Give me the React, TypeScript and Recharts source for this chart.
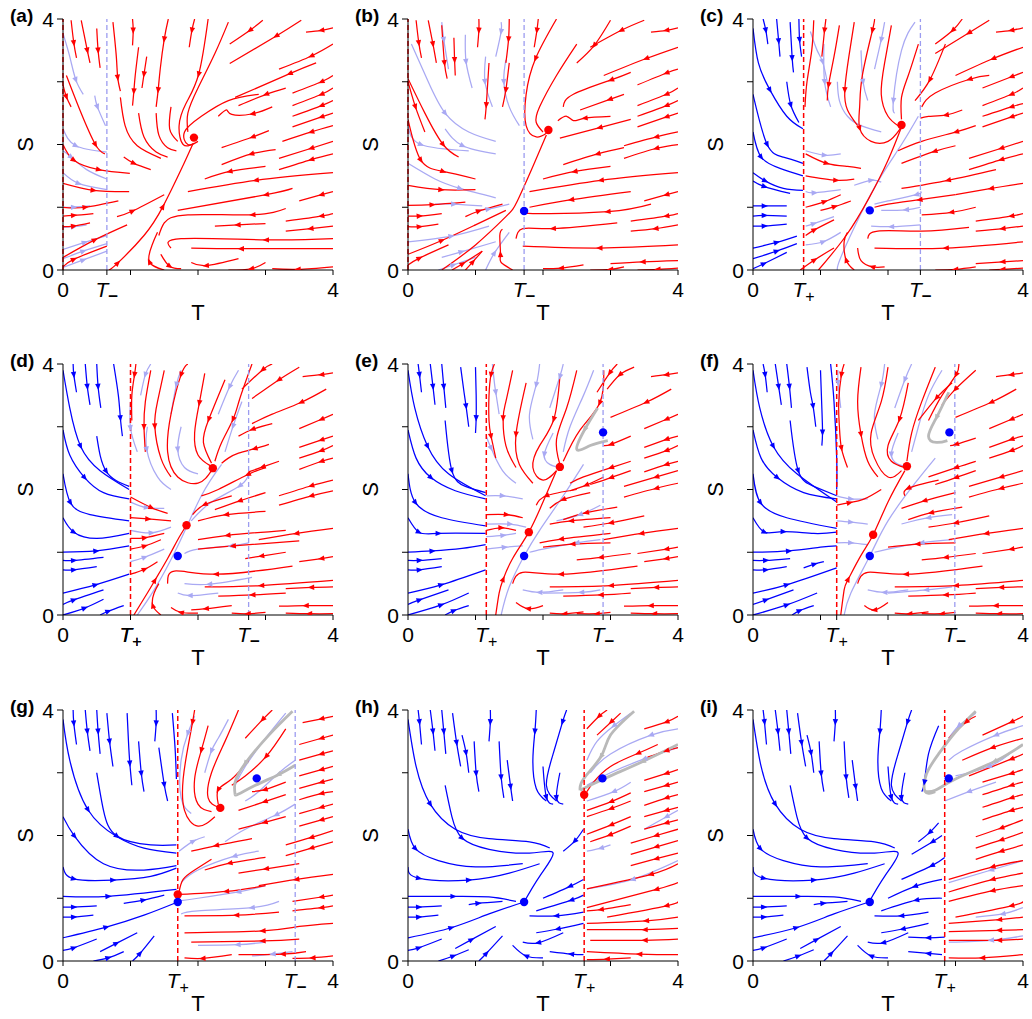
import React from 'react';
import { ComposedChart, Line, XAxis, YAxis, ReferenceLine, ReferenceDot } from 'recharts';

const RED = '#ff0000';
const BLUE = '#0000ff';
const LAV = '#a9a9f3';
const GREY = '#b9b9b9';
const FONT = '"Liberation Sans", Arial, sans-serif';

const PW = 270;
const PH = 251;
const PLOT_TOP = [19, 364, 710];

const NAMES = ['(a)', '(b)', '(c)', '(d)', '(e)', '(f)', '(g)', '(h)', '(i)'];
const T_PLUS = [0, 0, 0.75, 1.0, 1.16, 1.24, 1.7, 2.61, 2.84];
const T_MINUS = [0.65, 1.72, 2.48, 2.75, 2.89, 2.99, 3.44, null, null];
const RED_PTS = ['1.94,2.11', '2.08,2.23', '2.2,2.31', '2.22,2.34 1.83,1.43', '2.25,2.36 1.79,1.32',
  '2.28,2.37 1.78,1.28', '2.33,2.44 1.7,1.06', '2.61,2.65', ''];
const BLUE_PTS = ['', '1.72,0.94', '1.73,0.95', '1.7,0.94', '1.72,0.94 2.89,2.91', '1.73,0.94 2.91,2.91',
  '1.7,0.94 2.87,2.91', '1.72,0.94 2.88,2.91', '1.73,0.94 2.9,2.91'];

// streamlines: "T,S" points in flow order, ">" marks an arrow head
const redA = [
  '0.12,3.98 >0.16,3.62 0.2,3.38', '0.27,3.98 >0.36,3.5 0.4,3.3', '0.5,3.85 >0.52,3.5 0.55,3.22',
  '0.74,3.95 0.79,3.4 >0.81,3.07 0.85,2.85', '1.03,4 >1.04,3.82 1.03,3.58', '1.12,3.55 1.07,3.1 >1.05,2.85 1.03,2.62',
  '1.24,3.4 >1.2,3.12 1.17,2.9', '1.56,4 >1.5,3.68 1.44,3.2 >1.41,2.87 1.38,2.6', '1.95,4 >1.91,3.82 1.87,3.55',
  '2.15,4 >2.01,3.12 1.82,2.65 1.72,2.3 1.78,2.0 1.94,2.02', '2.45,3.95 2.25,3.45 2.0,2.9 1.85,2.5 1.85,2.2',
  '2.9,2.8 2.45,2.7 2.05,2.45 1.8,2.2 1.85,2.0 2.0,2.05', '0,2.95 >0.05,2.76 0.12,2.6',
  '0.05,3.1 0.25,2.55 >0.48,2.0 0.62,1.85', '0,2.0 >0.16,1.75 >0.53,1.6 0.99,1.54', '0,1.38 >0.45,1.27 0.98,1.25',
  '0.85,2.75 0.92,2.3 1.1,1.98 1.45,1.78', '1.12,2.5 1.2,2.12 1.38,1.88 1.55,1.8', '1.38,2.5 1.42,2.15 1.55,1.95 1.68,1.9',
  '1.6,2.6 1.58,2.25 1.7,2.05', '0.9,1.8 >1.05,1.7 1.3,1.6',
  '0,1.0 >0.33,1.0 0.82,1.1', '0,0.86 >0.16,0.87 0.45,0.9', '0,0.69 >0.16,0.7 0.4,0.75',
  '0,0.2 >0.47,0.48 0.95,0.72', '0,0.05 >0.16,0.17 0.65,0.38',
  '0.68,0 >0.81,0.11 1.2,0.55 >1.48,1.01 1.75,1.6 1.92,2.0', '0.8,0.85 >1.03,0.94 1.5,1.2',
  '1.5,0 >1.28,0.13 1.32,0.4 1.4,0.6', '1.45,0.25 >1.58,0.06 1.75,0.02',
  '2.96,3.98 >2.77,3.82 2.47,3.6', '3.53,3.98 >3.16,3.73 2.47,3.29', '4,3.86 >3.83,3.82 3.6,3.79',
  '4,3.6 >3.68,3.41 3.2,3.2', '3.75,3.3 >3.36,3.13 2.55,2.75', '4,3.1 >3.83,3.0 3.4,2.82', '4,2.9 >3.83,2.8 3.4,2.62',
  '3.3,2.9 >3.01,2.8 2.6,2.62', '4,2.7 >3.83,2.62 3.4,2.45', '4,2.5 >3.83,2.44 3.4,2.28',
  '3.1,2.6 >2.81,2.49 2.5,2.48 2.42,2.55 2.3,2.45', '4,2.3 >3.68,2.2 3.25,2.05', '3.05,2.22 >2.81,2.12 2.35,1.95',
  '4,2.05 >3.68,1.94 3.2,1.78', '4,1.85 >3.68,1.76 3.2,1.6', '3.15,1.92 >2.79,1.85 2.35,1.68',
  '3.0,1.65 >2.47,1.57 2.1,1.45', '4,1.55 >2.86,1.43 1.85,1.25', '4,1.25 >3.83,1.2 3.5,1.1',
  '3.4,1.3 >3.01,1.2 1.7,0.95', '4,0.9 >3.83,0.86 3.3,0.78', '3.3,0.98 >2.81,0.88 1.85,0.88 1.5,0.75 1.42,0.55',
  '3.0,0.74 >2.59,0.72 2.25,0.7', '4,0.7 >3.67,0.66 3.3,0.62', '4,0.5 >3.01,0.48 1.75,0.5 1.6,0.35',
  '4,0.34 >2.64,0.34 1.9,0.35', '4,0.05 >3.48,0.01 3.1,0.02', '3.0,0.12 >2.79,0.02 2.45,0.0', '2.6,0.18 >2.12,0.07 1.9,0.12',
];
const lavA = [
  '0,3.77 0.1,3.4 >0.19,3.03 0.3,2.8', '0.47,2.78 >0.51,2.6 0.63,2.3', '0,2.25 >0.19,1.98 0.65,1.88',
  '0,1.9 >0.12,1.8 0.35,1.6 0.65,1.45', '0,1.55 >0.23,1.38 0.65,1.28', '0,1.0 >0.16,1.0 0.4,1.02',
  '0,0.68 >0.16,0.69 0.35,0.72', '0,0.33 >0.32,0.44 0.65,0.55', '0,0.18 >0.3,0.3 0.65,0.42', '0,0.04 >0.3,0.16 0.65,0.3',
];

const redB = [
  '0.12,3.98 >0.16,3.62 0.2,3.38', '0.3,3.98 >0.37,3.6 0.42,3.3', '0.5,3.9 >0.54,3.3 0.58,3.05',
  '0.68,3.7 >0.69,3.35 0.7,3.1', '1.05,4 >1.05,3.82 1.03,3.55', '1.2,3.3 >1.16,2.63 1.14,2.4',
  '1.5,4 >1.49,3.68 1.45,3.3', '1.5,3.3 >1.45,2.87 1.4,2.6', '1.93,4 >1.91,3.82 1.87,3.55',
  '2.2,4 >1.89,3.37 1.75,2.8 1.75,2.3 1.9,2.12 2.05,2.18', '2.5,3.6 2.2,3.1 1.95,2.6 1.9,2.35 2.0,2.2',
  '0,3.0 >0.11,2.6 0.25,2.2', '0,3.05 0.25,2.5 >0.52,2.0 0.75,1.8', '0,2.4 >0.19,1.75 >0.52,1.57 1.0,1.45',
  '0,1.35 >0.49,1.28 1.0,1.28', '0,1.03 >0.36,1.04 0.85,1.08', '0,0.86 >0.17,0.86 0.5,0.9', '0,0.69 >0.17,0.69 0.45,0.73',
  '0,0.25 >0.5,0.47 1.0,0.72 1.45,0.95', '0,0.08 >0.17,0.19 0.6,0.4', '0.65,0 >0.81,0.1 1.1,0.3', '0.85,0 >0.96,0.13 1.1,0.3',
  '0.85,0.85 >1.05,0.94 1.4,1.05', '0.5,0 1.0,0.4 1.45,0.85 1.62,1.1 1.85,1.65 2.05,2.15',
  '1.55,0 1.38,0.12 >1.37,0.25 1.36,0.55 1.4,0.65',
  '3.0,3.98 >2.76,3.58 2.5,3.3', '3.5,3.98 >3.16,3.82 2.7,3.55', '4,3.86 >3.83,3.82 3.6,3.79', '4,3.55 >3.53,3.37 2.9,3.1',
  '4,3.2 >3.83,3.14 3.4,2.95', '3.3,3.15 >3.01,3.03 2.45,2.8 2.3,2.6', '4,2.9 >3.83,2.8 3.4,2.62', '3.2,2.8 >2.99,2.72 2.55,2.55',
  '4,2.7 >3.83,2.62 3.4,2.45', '3.0,2.45 >2.62,2.42 2.45,2.38 2.35,2.45 2.22,2.38', '3.3,2.4 >2.84,2.27 2.25,2.1',
  '4,2.5 >3.83,2.44 3.4,2.28', '4,2.2 >3.68,2.12 3.2,1.98', '4,2.0 >3.68,1.94 3.2,1.78', '3.2,1.95 >2.81,1.85 2.3,1.68',
  '3.0,1.65 >2.47,1.57 2.0,1.45', '4,1.55 >2.86,1.43 1.8,1.25', '4,1.25 >3.83,1.2 3.5,1.1', '3.3,1.25 >2.42,1.12 1.8,1.0',
  '3.6,1.05 >2.96,0.93 1.85,0.9 1.72,0.94', '4,0.9 >3.83,0.86 3.3,0.78', '4,0.72 >3.67,0.66 3.3,0.62',
  '3.1,0.75 >2.15,0.66 1.7,0.66 1.6,0.5', '4,0.4 >2.84,0.35 1.7,0.38', '4,0.15 >3.48,0.13 3.0,0.1',
  '2.6,0.08 >2.27,0.03 2.0,0.02', '3.2,0.05 >3.0,0.01 2.7,0.0', '4,0.03 >3.7,0.01 3.4,0.0',
];
const lavB = [
  '0.05,3.6 0.3,3.0 >0.55,2.5 0.9,2.2 1.3,2.05', '0.5,3.95 >0.53,3.67 0.6,3.2', '0.85,3.75 >0.86,3.32 0.95,2.9',
  '1.15,3.4 >1.14,3.0 1.25,2.6', '1.38,3.95 >1.38,3.8 1.3,3.4', '1.45,3.35 >1.42,3.0 1.5,2.6 1.65,2.3',
  '0,2.3 >0.19,2.0 0.9,1.9', '0.55,2.25 >0.81,1.98 1.3,1.85', '0,1.7 0.4,1.45 >0.77,1.3 1.3,1.15',
  '0.4,1.05 >0.68,1.05 1.1,1.02', '1.0,0.95 >1.19,0.97 1.5,1.05', '0,0.45 >0.64,0.54 1.2,0.7',
  '0.5,0.2 >0.79,0.29 1.3,0.45', '0.45,0 >0.67,0.08 1.0,0.2', '1.15,0 >1.28,0.27 1.5,0.6',
];

const blueC = [
  '0.15,4 >0.19,3.82 0.22,3.6', '0.35,4 >0.38,3.65 0.4,3.4', '0.55,3.95 >0.58,3.38 0.6,3.15', '0.68,4 >0.69,3.67 0.72,3.4',
  '0.5,3.0 >0.56,2.63 0.68,2.35', '0,3.85 0.08,3.3 >0.25,2.87 0.5,2.45 0.74,2.25', '0,2.8 >0.21,2.0 0.45,1.8 0.74,1.7',
  '0,2.2 >0.12,1.8 0.4,1.62 0.74,1.5', '0,1.55 >0.18,1.42 0.45,1.3 0.74,1.27', '0,1.42 >0.17,1.33 0.55,1.22',
  '0,1.02 >0.17,1.02 0.5,1.02', '0,0.86 >0.17,0.87 0.5,0.86', '0,0.7 >0.17,0.7 0.5,0.73', '0,0.35 >0.35,0.44 0.65,0.54',
  '0,0.18 >0.35,0.3 0.65,0.42', '0,0.02 >0.16,0.1 0.5,0.28',
];
const redC = [
  '0.9,3.98 0.87,3.5 0.8,3.0 0.77,2.6', '1.08,4 >1.06,3.82 1.02,3.4', '1.28,3.9 1.2,3.4 >1.12,2.95 1.1,2.7',
  '1.5,3.95 1.42,3.4 >1.36,2.87 1.4,2.55 1.55,2.3', '1.8,4 >1.77,3.82 1.62,3.1 1.58,2.6 >1.58,2.26 1.75,2.05 2.0,2.05 2.18,2.25',
  '2.05,3.9 1.95,3.3 1.9,2.8 2.0,2.45 2.15,2.3', '2.45,3.6 2.3,3.1 2.2,2.75 2.2,2.4',
  '0.78,1.85 >1.09,1.7 1.4,1.65 1.6,1.62', '0.78,1.5 >1.23,1.43 1.5,1.45', '0.78,1.0 >1.06,1.09 1.3,1.2',
  '1.0,0.95 >1.21,1.01 1.45,1.1', '0.78,0.55 >0.91,0.64 1.2,0.8', '0.7,0 >0.91,0.16 1.2,0.35',
  '1.5,0 >1.38,0.16 1.35,0.45 1.4,0.6', '1.95,0.05 >1.77,0.05 1.6,0.15 1.55,0.35', '0.97,0 1.38,0.55 1.72,1.15 2.0,1.75 2.2,2.28',
  '3.1,4 >2.96,3.82 2.7,3.6', '2.85,3.6 >2.62,3.03 2.4,2.7', '3.5,3.98 >3.2,3.78 2.7,3.45', '4,3.86 >3.83,3.82 3.6,3.79',
  '4,3.55 >3.56,3.37 3.0,3.1', '3.5,3.1 >3.21,3.04 2.7,2.82 2.5,2.6', '4,3.15 >3.83,3.08 3.4,2.9', '4,2.9 >3.83,2.8 3.4,2.62',
  '3.1,2.55 >2.86,2.47 2.6,2.45 2.48,2.42', '4,2.65 >3.83,2.6 3.4,2.45', '4,2.5 >3.83,2.44 3.4,2.28',
  '3.3,2.3 >3.01,2.2 2.5,2.05 2.15,1.9', '4,2.05 >3.68,1.94 3.2,1.78', '4,1.85 >3.68,1.76 3.2,1.6', '3.0,1.98 >2.69,1.89 2.2,1.7',
  '3.6,1.6 >2.89,1.43 2.2,1.3', '4,1.38 >3.53,1.3 3.0,1.2', '3.0,1.2 >2.47,1.12 2.0,1.05 1.8,1.0', '3.3,1.0 >2.94,0.92 2.5,0.88',
  '4,0.9 >3.83,0.86 3.3,0.78', '4,0.7 >3.7,0.66 3.3,0.62', '3.2,0.68 2.5,0.62 1.85,0.62 1.7,0.5', '4,0.45 >2.86,0.35 1.8,0.35',
  '4,0.15 >3.7,0.13 3.3,0.1', '3.3,0.05 >3.0,0.01 2.7,0.0', '4,0.03 >3.7,0.01 3.5,0',
];
const lavC = [
  '0.85,3.8 0.95,3.5 >1.03,3.32 1.1,3.0', '1.05,3.6 >1.06,3.0 1.15,2.6', '1.25,3.0 1.28,2.7 1.4,2.45 1.6,2.3 1.9,2.2',
  '1.95,3.95 >1.9,3.67 1.8,3.2', '1.6,3.5 >1.63,3.0 1.7,2.7', '2.4,3.95 2.2,3.5 >2.08,2.7 2.1,2.5',
  '0.78,1.9 >1.06,1.83 1.3,1.85', '0.78,1.25 >0.91,1.23 1.3,1.28', '1.5,1.35 >1.75,1.43 1.9,1.4',
  '0.78,0.7 >0.9,0.74 1.2,0.85', '0.78,0.4 >1.04,0.45 1.3,0.6', '2.48,1.25 >2.42,1.2 2.0,1.1 1.8,1.05',
  '2.48,1.0 >2.27,0.96 1.9,0.95', '2.48,0.72 >2.05,0.69 1.75,0.7', '2.45,2.45 2.2,2.0 1.9,1.5 1.6,0.9 1.3,0.2 1.25,0',
];

const blueD = [
  '0.15,4 >0.16,3.83 0.2,3.55', '0.33,4 >0.36,3.64 0.4,3.35', '0.5,4 >0.52,3.64 0.56,3.3', '0.75,4 0.82,3.5 >0.85,3.14 0.88,2.85',
  '0,3.9 0.1,3.3 >0.26,2.69 0.55,2.3 0.98,2.0', '0.5,2.85 >0.64,2.29 0.98,2.05', '0,2.95 0.1,2.55 >0.32,2.19 0.6,1.95 0.98,1.85',
  '0,2.25 >0.11,1.79 0.4,1.6 0.98,1.5', '0,1.55 >0.16,1.32 0.5,1.22 0.98,1.3', '0,1.0 >0.49,1.02 0.98,1.1',
  '0,0.87 >0.16,0.87 0.6,0.92', '0,0.72 >0.16,0.72 0.5,0.77', '0,0.35 >0.48,0.48 0.98,0.65', '0,0.17 >0.16,0.24 0.6,0.4',
  '0,0.0 >0.32,0.11 0.6,0.25', '0.55,0 >0.67,0.06 0.9,0.15',
];
const redD = [
  '1.08,4 >1.06,3.83 1.02,3.5 1.02,3.1', '1.3,3.9 1.22,3.4 >1.2,3.0 1.22,2.6', '1.5,3.9 1.4,3.4 >1.36,3.01 1.45,2.5 1.6,2.2',
  '1.85,4 >1.75,3.83 1.6,3.2 1.55,2.6 1.7,2.2 2.0,2.1 2.2,2.3', '2.1,3.85 >2.02,3.38 1.95,2.9 2.0,2.55 2.18,2.38',
  '2.4,3.75 >2.16,3.12 2.08,2.75 2.2,2.42', '2.8,4 2.62,3.45 >2.52,3.12 2.35,2.75 2.25,2.45', '3.1,4 >2.96,3.91 2.65,3.6',
  '3.5,3.95 >3.2,3.75 2.8,3.45', '4,3.86 >3.83,3.83 3.55,3.8', '3.9,3.6 >3.53,3.39 3.1,3.2 2.8,3.05', '4,3.2 >3.83,3.12 3.5,2.97',
  '3.1,3.05 >2.81,2.96 2.6,2.85', '4,2.85 >3.83,2.79 3.5,2.67', '4,2.7 >3.83,2.62 3.5,2.5',
  '3.05,2.72 >2.84,2.65 2.6,2.58 2.45,2.5 2.35,2.42', '4,2.5 >3.83,2.45 3.5,2.32', '3.2,2.45 >2.96,2.36 2.75,2.28',
  '3.0,2.35 >2.74,2.24 2.3,2.0 2.05,1.9', '4,2.15 >3.68,2.06 3.2,1.9', '4,1.98 >3.68,1.9 3.2,1.75', '3.0,1.95 >2.62,1.82 2.25,1.68',
  '2.5,1.9 >2.1,1.76 1.92,1.6', '1.0,1.88 >1.31,1.71 1.55,1.62', '1.0,1.55 >1.26,1.53 1.6,1.5', '1.0,1.22 >1.21,1.23 1.5,1.3',
  '1.0,1.05 >1.21,1.1 1.45,1.2', '1.0,0.65 >1.21,0.73 1.4,0.85', '1.05,0 1.25,0.35 >1.36,0.55 1.55,0.9 1.7,1.2 1.83,1.43',
  '1.45,0 >1.33,0.15 1.35,0.35 1.42,0.5', '2.0,0.03 >1.75,0.04 1.6,0.12', '3.0,1.65 >2.42,1.6 2.0,1.5', '3.3,1.35 >2.44,1.27 2.0,1.2',
  '3.5,1.18 >2.52,1.1 2.0,1.05', '4,1.38 >3.46,1.3 2.9,1.2', '3.3,1.0 >2.94,0.94 2.7,0.9', '4,0.93 >3.83,0.9 3.5,0.85',
  '3.4,0.78 >2.27,0.65 1.65,0.7 1.55,0.5', '4,0.55 >2.94,0.47 2.1,0.45', '4,0.45 >3.68,0.44 3.3,0.42', '3.3,0.35 >2.81,0.32 2.3,0.3',
  '4,0.15 >3.6,0.15 3.2,0.14', '4,0.02 >3.65,0.02 3.3,0.03', '2.5,0.15 >2.12,0.1 1.9,0.08', '3.0,0.04 >2.74,0.02 2.5,0.03',
];
const lavD = [
  '1.3,4 >1.22,3.83 1.15,3.5', '1.75,3.9 >1.68,3.67 1.6,3.2', '1.0,3.4 >1.0,2.98 1.1,2.6', '1.25,3.0 >1.24,2.64 1.4,2.2 1.6,2.0',
  '1.75,3.0 >1.7,2.64 1.8,2.35 2.0,2.25', '2.6,3.9 >2.47,3.64 2.3,3.2', '2.65,3.4 >2.52,3.01 2.4,2.6',
  '2.75,2.25 >2.62,2.06 2.2,1.8 1.9,1.5', '1.0,1.8 >1.24,1.71 1.5,1.7', '1.0,1.35 >1.31,1.31 1.6,1.4', '1.0,0.85 >1.21,0.92 1.5,1.05',
  '2.75,1.15 >2.49,1.1 2.0,1.05 1.8,0.98', '2.8,0.6 >2.17,0.49 1.8,0.5', '2.3,0.35 >1.88,0.31 1.7,0.35',
  '2.35,2.4 2.05,1.9 1.7,1.1 1.35,0.4 1.1,0',
];

const blueE = [
  '0.15,4 >0.17,3.83 0.2,3.55', '0.33,4 >0.37,3.64 0.4,3.35', '0.5,4 >0.53,3.64 0.56,3.3', '0.78,3.95 0.83,3.55 >0.86,3.33 0.9,3.0',
  '1.0,3.95 1.01,3.5 >1.01,3.14 1.0,2.9', '0,3.9 0.1,3.3 >0.29,2.69 0.6,2.25 1.15,1.9', '0.55,3.1 >0.65,2.3 0.85,2.05 1.15,1.95',
  '0,2.95 0.12,2.5 >0.34,2.19 0.7,1.98 1.15,1.85', '0,2.25 >0.11,1.79 0.5,1.55 1.15,1.42', '0,1.55 >0.16,1.32 >0.45,1.3 1.15,1.3',
  '0,1.0 >0.36,1.02 0.8,1.06 1.15,1.12', '0,0.87 >0.17,0.87 0.5,0.9', '0,0.72 >0.17,0.72 0.5,0.77', '0,0.35 >0.49,0.48 1.15,0.72',
  '0,0.17 >0.17,0.24 0.6,0.4', '0,0.0 >0.49,0.16 0.9,0.35', '0.55,0 >0.68,0.07 0.9,0.15',
];
const redE = [
  '1.28,4 >1.23,3.83 1.2,3.5 1.2,3.1 >1.23,2.85 1.3,2.5', '1.55,3.9 1.45,3.4 >1.41,3.14 1.45,2.7 1.6,2.35',
  '1.75,3.7 >1.6,2.88 1.65,2.4 1.85,2.1', '2.25,3.8 >2.16,3.12 1.95,2.7 1.85,2.35 2.0,2.15 2.2,2.3', '2.5,3.9 2.35,3.3 2.2,2.8 2.25,2.4',
  '2.9,3.9 >2.84,3.38 2.55,2.95 2.3,2.45', '1.16,1.6 >1.46,1.6 1.7,1.55', '1.16,1.35 >1.38,1.39 1.6,1.35',
  '1.3,0 1.35,0.35 >1.41,0.57 1.55,0.9 1.79,1.32 2.0,1.8 2.2,2.3', '2.0,0.15 >1.78,0.1 1.6,0.2', '2.5,2.0 >2.05,1.9 1.9,1.75',
  '2.7,1.95 >2.3,1.84 2.1,1.7', '3.1,4 >2.99,3.86 2.8,3.55', '3.35,3.95 >3.14,3.83 2.95,3.6', '4,3.86 >3.83,3.83 3.6,3.8',
  '3.9,3.6 >3.53,3.39 3.0,3.15', '4,3.2 >3.83,3.12 3.5,2.97', '4,2.85 >3.83,2.8 3.5,2.67', '3.3,2.85 >3.01,2.72 2.9,2.7',
  '4,2.7 >3.83,2.62 3.5,2.5', '4,2.45 >3.83,2.4 3.5,2.28', '3.3,2.45 >3.01,2.35 2.6,2.2 2.4,2.1', '3.3,2.3 >3.01,2.19 2.7,2.08',
  '4,2.3 >3.68,2.2 3.2,2.05', '4,2.1 >3.68,2.02 3.2,1.88', '2.9,2.2 >2.64,2.07 2.4,1.98', '3.1,1.72 >2.64,1.63 2.3,1.52',
  '3.5,1.58 >3.01,1.47 2.6,1.4', '3.0,1.55 >2.42,1.5 2.1,1.45', '4,1.38 >3.46,1.3 2.9,1.2', '4,1.08 >3.83,1.05 3.4,0.98',
  '3.0,1.3 >2.27,1.21 1.95,1.15', '3.0,1.15 >2.44,1.13 2.0,1.08', '3.3,0.98 >2.86,0.92 2.5,0.88', '4,0.93 >3.83,0.9 3.5,0.85',
  '3.4,0.78 >2.27,0.65 1.7,0.68 1.55,0.5', '4,0.55 >3.01,0.47 2.1,0.45', '4,0.45 >3.68,0.44 3.3,0.42', '3.3,0.35 >2.86,0.32 2.3,0.3',
  '4,0.15 >3.6,0.15 3.2,0.14', '4,0.02 >3.65,0.02 3.3,0.03', '2.6,0.05 >2.32,0.02 2.1,0.03', '3.0,0.04 >2.8,0.02 2.5,0.02',
];
const lavE = [
  '1.25,4 1.28,3.7 >1.3,3.55 1.35,3.2', '1.16,2.85 >1.23,2.66 1.4,2.3 1.6,2.1', '1.95,4 >1.9,3.67 1.8,3.2 1.85,2.8',
  '2.3,4 >2.25,3.8 2.1,3.3', '2.15,2.9 >2.02,2.56 2.1,2.4 2.25,2.35', '2.75,3.9 2.6,3.5 2.4,3.0 2.3,2.6',
  '1.16,1.9 >1.4,1.9 1.7,1.85', '1.16,1.45 >1.51,1.45 1.75,1.4', '1.16,1.05 >1.43,1.08 1.7,1.1', '1.16,1.25 >1.41,1.27 1.6,1.3',
  '2.6,2.4 2.3,1.9 1.95,1.35 1.72,0.94 1.5,0.45 1.38,0', '2.85,1.75 >2.55,1.6 2.2,1.5', '2.85,1.2 >2.5,1.15 2.0,1.05 1.8,1.0',
  '2.85,0.4 >2.57,0.36 2.0,0.35', '2.3,0.4 >1.95,0.36 1.7,0.4',
];
const greyE = ['2.81,3.3 >2.62,2.96 2.5,2.64 2.7,2.7 2.96,2.78'];

const blueF = [
  '0.15,4 >0.18,3.83 0.21,3.55', '0.33,4 >0.38,3.64 0.42,3.35', '0.5,4 >0.54,3.64 0.57,3.3', '0.8,3.95 0.85,3.55 >0.89,3.33 0.93,3.0',
  '1.0,3.9 1.02,3.3 >1.03,2.91 1.02,2.7', '1.15,4 1.2,3.4 1.24,2.5 1.24,2.0', '0,3.9 0.1,3.3 >0.3,2.69 0.65,2.25 1.24,1.8',
  '0.55,3.1 >0.67,2.3 0.9,2.05 1.24,1.9', '0,2.95 0.12,2.5 >0.36,2.19 0.75,1.95 1.24,1.85', '0,2.25 >0.11,1.79 0.5,1.55 1.24,1.38',
  '0,1.55 >0.17,1.32 >0.45,1.33 0.9,1.3 1.24,1.32', '0,1.0 >0.53,1.02 1.0,1.08 1.24,1.1', '0,0.87 >0.19,0.87 0.55,0.9',
  '0,0.72 >0.19,0.72 0.5,0.77', '0.75,0.75 >0.91,0.81 1.05,0.85', '0,0.35 >0.5,0.48 1.24,0.75', '0,0.17 >0.19,0.24 0.6,0.4',
  '0,0.0 >0.5,0.16 0.95,0.35', '0.58,0 >0.69,0.07 0.9,0.15',
];
const redF = [
  '1.35,4 >1.31,3.83 1.27,3.4 1.28,3.0 >1.31,2.66 1.4,2.35', '1.6,3.95 1.55,3.4 >1.6,2.88 1.7,2.45 1.85,2.2',
  '2.0,3.95 1.9,3.4 1.75,2.9 1.8,2.5 2.0,2.2 2.2,2.3', '2.3,3.7 >2.17,3.12 2.0,2.7 2.05,2.45 2.25,2.35', '2.7,3.95 2.5,3.4 2.35,2.9 2.28,2.45',
  '3.05,4 >3.01,3.83 2.8,3.5 2.6,3.1', '3.3,3.9 >3.0,3.6 2.8,3.35', '2.95,3.7 >2.72,3.46 2.45,3.1', '4,3.86 >3.83,3.83 3.6,3.8',
  '3.9,3.6 >3.53,3.39 3.0,3.15', '4,3.2 >3.83,3.12 3.5,2.97', '4,2.85 >3.83,2.8 3.5,2.67', '3.3,2.82 >3.01,2.72 2.92,2.7',
  '4,2.7 >3.83,2.62 3.5,2.5', '3.3,2.45 >3.01,2.35 2.6,2.2', '3.3,2.3 >3.01,2.19 2.7,2.08', '4,2.3 >3.68,2.2 3.2,2.05',
  '4,2.1 >3.68,2.02 3.2,1.88', '2.75,2.15 >2.3,2.02 2.25,1.9', '1.24,1.75 >1.43,1.79 1.65,1.85 1.9,2.0',
  '1.3,0 1.35,0.4 >1.41,0.57 1.6,0.95 1.78,1.28 2.0,1.8 2.25,2.3', '3.0,1.95 >2.54,1.82 2.2,1.7', '3.1,1.72 >2.64,1.63 2.3,1.52',
  '3.5,1.58 >3.01,1.47 2.6,1.4', '4,1.38 >3.46,1.3 2.9,1.2', '4,1.08 >3.83,1.05 3.4,0.98', '3.0,1.15 >2.44,1.13 2.0,1.08',
  '3.3,0.98 >2.86,0.92 2.5,0.88', '3.4,0.78 >2.27,0.65 1.7,0.68 1.55,0.5', '4,0.55 >3.01,0.47 2.1,0.45', '4,0.45 >3.68,0.44 3.3,0.42',
  '3.3,0.35 >2.86,0.32 2.3,0.3', '4,0.15 >3.6,0.15 3.2,0.14', '4,0.02 >3.65,0.02 3.3,0.03', '2.6,0.05 >2.32,0.02 2.1,0.03',
  '3.0,0.04 >2.8,0.02 2.5,0.02', '2.0,0.2 >1.8,0.08 1.65,0.15',
];
const lavF = [
  '1.26,3.9 >1.26,3.7 1.3,3.3', '1.95,4 >1.9,3.67 1.8,3.2 1.85,2.8', '2.35,4 >2.25,3.75 2.1,3.3', '2.15,2.9 >2.05,2.56 2.15,2.4 2.28,2.37',
  '2.8,3.9 2.6,3.5 2.45,3.0 2.35,2.6', '1.24,1.9 >1.45,1.85 1.7,1.85', '1.24,1.5 >1.45,1.48 1.7,1.45', '1.24,1.15 >1.45,1.15 1.7,1.12',
  '2.7,2.5 2.4,2.1 2.0,1.5 1.73,0.94 1.45,0.35 1.35,0', '2.95,1.6 >2.6,1.55 2.2,1.45', '2.95,1.2 >2.5,1.15 2.0,1.05 1.8,1.0',
  '2.95,0.45 >2.57,0.4 2.0,0.35', '2.3,0.4 >1.95,0.36 1.7,0.4',
];
const greyF = ['2.9,3.55 >2.72,3.15 2.6,2.85 2.72,2.75 2.88,2.78'];

const blueG = [
  '0.15,4 >0.16,3.79 0.2,3.45', '0.33,4 >0.36,3.66 0.4,3.35', '0.5,4 >0.52,3.66 0.55,3.3', '0.65,3.95 >0.69,3.5 0.74,3.1',
  '0.95,3.95 0.97,3.5 >0.99,3.15 1.02,2.8', '1.12,3.5 >1.16,2.99 1.2,2.7', '1.38,4 >1.38,3.79 1.36,3.5', '1.42,3.4 >1.5,2.81 1.55,2.55',
  '1.62,3.95 1.66,3.4 1.68,2.9', '0,3.85 0.1,3.2 >0.37,2.41 0.8,1.98 1.2,1.8 1.68,1.72', '0.5,3.0 0.6,2.4 >0.8,1.99 1.3,1.85 1.68,1.85',
  '0,2.3 >0.17,1.99 0.6,1.55 1.2,1.45 1.68,1.52', '0,1.5 >0.16,1.31 >0.74,1.29 1.3,1.35 1.68,1.48', '0,1.03 >0.67,1.03 1.68,1.14',
  '0.9,0.92 >1.19,0.97 1.5,1.05', '0,0.86 >0.16,0.86 0.5,0.88', '0,0.7 >0.16,0.7 0.45,0.73', '0,0.37 >0.64,0.54 1.2,0.73 1.7,0.94',
  '0,0.17 >0.16,0.21 0.5,0.35', '0.55,0.15 >0.79,0.28 1.1,0.45', '0.45,0 >0.67,0.05 0.9,0.15', '1.03,0 >1.14,0.12 1.35,0.4',
];
const redG = [
  '1.95,4 >1.92,3.81 1.85,3.4 1.78,2.9 1.8,2.4 2.0,2.15 2.25,2.3', '2.15,3.75 >2.05,3.36 1.95,2.9 2.0,2.5 2.2,2.38',
  '2.6,4 2.4,3.5 2.2,3.0 2.15,2.6 2.3,2.45', '2.75,3.2 2.5,2.9 >2.3,2.73 2.3,2.5', '3.1,4 >2.96,3.85 2.7,3.55',
  '3.3,3.7 >3.01,3.26 2.7,2.95 2.5,2.8', '4,3.9 >3.83,3.86 3.55,3.8', '4,3.6 >3.83,3.55 3.5,3.45', '4,3.35 >3.83,3.3 3.5,3.2',
  '4,3.1 >3.83,3.05 3.5,2.95', '4,2.9 >3.83,2.85 3.5,2.75', '4,2.7 >3.83,2.67 3.5,2.57', '4,2.5 >3.83,2.45 3.5,2.35',
  '4,2.3 >3.83,2.25 3.5,2.15', '4,2.08 >3.68,1.97 3.3,1.85', '4,1.9 >3.68,1.8 3.3,1.68', '3.3,2.85 >2.99,2.73 2.8,2.7',
  '3.3,2.65 >2.99,2.54 2.6,2.4', '3.3,2.3 >2.99,2.21 2.6,2.1', '2.8,1.95 >2.27,1.84 1.9,1.75', '3.0,1.65 >2.47,1.56 2.1,1.45',
  '1.72,1.1 1.78,1.3 1.95,1.45 2.2,1.62', '3.5,1.55 >3.01,1.47 2.6,1.4', '4,1.38 >3.46,1.3 2.9,1.2', '3.0,1.2 >2.42,1.11 1.72,1.06',
  '4,1.05 >3.83,1.02 3.4,0.95', '4,0.88 >3.83,0.85 3.4,0.8', '3.2,0.78 >2.57,0.73 1.8,0.72', '4,0.6 3.5,0.55 >2.96,0.48 1.8,0.45',
  '3.5,0.35 >2.96,0.32 1.9,0.3', '3.6,0.15 >3.26,0.11 2.6,0.1', '4,0.08 >3.7,0.05 3.4,0.04', '2.5,0.1 >2.07,0.04 1.8,0.05',
];
const lavG = [
  '1.95,3.9 >1.85,3.63 1.75,3.2 1.75,2.6 1.9,2.35', '2.45,3.85 2.3,3.55 >2.2,3.35 2.1,3.0', '1.72,1.75 >1.93,1.91 2.1,1.98',
  '3.44,2.5 >3.16,2.33 2.7,2.1 2.4,1.9', '2.9,1.75 >2.54,1.67 2.0,1.45 1.75,1.25', '3.0,1.2 >2.6,1.1 2.0,1.0 1.72,0.96',
  '3.2,0.95 >2.8,0.85 2.0,0.8 1.75,0.75', '3.0,0.3 >2.59,0.26 2.0,0.25', '3.4,0.15 >3.11,0.11 2.8,0.08',
  '3.44,3.2 3.2,3.0 2.9,2.7 2.7,2.55', '3.3,3.95 3.0,3.55 2.7,3.1 2.55,2.8',
];
const greyG = ['3.4,3.98 3.05,3.6 >2.7,3.15 2.55,2.85 2.55,2.65', '3.44,3.12 >3.19,2.97 2.85,2.8 2.6,2.66 2.55,2.65'];

const blueH = [
  '0.15,4 >0.17,3.81 0.2,3.45', '0.33,4 >0.37,3.66 0.4,3.35', '0.5,4 >0.53,3.66 0.56,3.3', '0.66,3.95 >0.72,3.48 0.78,3.1',
  '0.8,3.6 >0.86,3.32 0.9,3.0', '0.98,3.5 >1.01,2.99 1.05,2.7', '1.22,4 >1.22,3.81 1.2,3.5', '1.35,3.5 >1.38,2.93 1.42,2.6',
  '1.47,3.2 >1.52,2.78 1.55,2.55', '1.9,4 >1.88,3.66 1.85,3.2 1.9,2.75 2.05,2.55', '2.35,4 >2.29,3.81 2.15,3.3 2.05,2.8 2.2,2.55',
  '2.0,3.1 >2.05,2.61 2.15,2.5', '2.25,3.0 >2.2,2.6 2.3,2.5', '0,3.85 0.12,3.1 >0.33,2.5 0.7,2.1 1.2,1.95 1.8,1.9 2.1,1.8',
  '0.55,2.8 0.65,2.3 >0.8,1.96 1.2,1.78 1.8,1.72 2.15,1.72 1.95,1.35 1.72,0.94', '0,2.1 >0.11,1.79 0.45,1.6 1.0,1.5 1.7,1.55',
  '0,1.5 >0.16,1.32 >0.9,1.29 1.5,1.4 1.95,1.55', '0,1.03 >0.67,1.03 1.2,1.02 1.6,0.95', '0.9,0.9 >1.04,0.92 1.4,0.95',
  '0,0.86 >0.16,0.86 0.5,0.88', '0,0.7 >0.16,0.7 0.45,0.73', '0,0.37 >0.64,0.53 1.2,0.75 1.72,0.94', '0,0.17 >0.16,0.21 0.5,0.35',
  '0.7,0.2 >0.94,0.34 1.3,0.55', '0.45,0 >0.67,0.08 0.9,0.18', '1.05,0 >1.16,0.12 1.4,0.4', '2.0,0.05 >1.75,0.08 1.55,0.25',
  '2.3,0.45 >1.93,0.29 1.7,0.3', '2.6,0.6 >2.22,0.51 1.9,0.45', '2.6,0.1 >2.42,0.11 2.1,0.15', '2.6,0.78 >2.2,0.72 1.8,0.72',
  '2.6,1.05 >2.42,0.97 1.9,0.8', '2.6,1.3 >2.4,1.19 2.0,1.0', '2.6,2.1 >2.47,1.91 2.3,1.75',
];
const redH = [
  '2.95,4 >2.83,3.9 2.65,3.7', '3.15,3.95 >3.01,3.81 2.8,3.6', '4,3.9 >3.83,3.81 3.5,3.7', '3.7,3.45 >3.41,3.31 3.0,3.1 2.75,2.85 2.65,2.7',
  '4,3.4 >3.83,3.35 3.55,3.25', '4,3.05 >3.83,2.99 3.5,2.88', '4,2.85 >3.83,2.8 3.5,2.7', '3.3,2.68 >3.01,2.54 2.65,2.4',
  '4,2.65 >3.83,2.6 3.5,2.48', '3.3,2.55 >3.01,2.43 2.65,2.3', '4,2.45 >3.83,2.4 3.5,2.3', '3.3,2.3 >3.01,2.17 2.65,2.02',
  '4,2.25 >3.83,2.2 3.5,2.1', '3.3,2.15 >2.99,2.01 2.7,1.9', '4,2.1 >3.68,2.0 3.3,1.88', '4,1.92 >3.68,1.82 3.3,1.7',
  '4,1.72 >3.68,1.63 3.3,1.52', '4,1.55 >3.6,1.38 2.65,1.15', '4,1.25 >3.68,1.14 2.65,0.85', '4,0.95 >3.83,0.88 2.95,0.7',
  '3.3,0.9 >2.86,0.82 2.65,0.8', '4,0.7 >3.53,0.64 2.65,0.6', '4,0.52 >3.51,0.5 2.65,0.5', '4,0.35 >3.51,0.33 2.7,0.33',
  '4,0.1 >3.43,0.11 2.65,0.15', '3.3,0.05 >2.95,0.03 2.65,0.02',
];
const lavH = [
  '3.3,3.95 >3.05,3.75 2.8,3.5 2.65,3.2', '4,3.7 >3.6,3.6 3.0,3.3 2.7,3.0', '4,3.4 >3.5,3.22 3.0,3.0 2.65,2.8',
  '3.3,2.85 >3.05,2.7 2.65,2.55', '3.0,1.85 >2.86,1.8 2.65,1.75', '4,1.6 >3.33,1.3 2.65,1.15', '4,2.4 >3.83,2.3 3.5,2.1',
];
const greyH = ['3.35,3.98 3.0,3.6 >2.86,3.26 2.6,2.9 2.55,2.72', '4,3.45 >3.48,3.18 3.0,2.95 2.7,2.8 2.55,2.72'];

const blueI = [
  '0.15,4 >0.17,3.81 0.2,3.45', '0.33,4 >0.37,3.66 0.4,3.35', '0.5,4 >0.53,3.66 0.56,3.3', '0.66,3.95 >0.72,3.48 0.78,3.1',
  '0.8,3.6 >0.86,3.32 0.9,3.0', '0.98,3.5 >1.01,2.99 1.05,2.7', '1.22,4 >1.22,3.81 1.2,3.5', '1.35,3.5 >1.38,2.93 1.42,2.6',
  '1.47,3.2 >1.52,2.78 1.55,2.55', '1.9,4 >1.88,3.66 1.85,3.2 1.9,2.75 2.05,2.55', '2.35,4 >2.29,3.81 2.15,3.3 2.05,2.8 2.2,2.55',
  '2.0,3.1 >2.05,2.61 2.15,2.5', '2.25,3.0 >2.2,2.6 2.3,2.5', '2.75,3.75 2.6,3.3 >2.54,2.85 2.5,2.7',
  '0,3.85 0.12,3.1 >0.33,2.5 0.7,2.1 1.2,1.95 1.8,1.9 2.1,1.8',
  '0.55,2.8 0.65,2.3 >0.8,1.96 1.2,1.78 1.8,1.72 2.15,1.72 1.95,1.35 1.72,0.94', '0,2.1 >0.11,1.79 0.45,1.6 1.0,1.5 1.7,1.55',
  '0,1.5 >0.16,1.32 >0.9,1.29 1.5,1.4 1.95,1.55', '0,1.03 >0.67,1.03 1.2,1.02 1.6,0.95', '0.9,0.9 >1.04,0.92 1.4,0.95',
  '0,0.86 >0.16,0.86 0.5,0.88', '0,0.7 >0.16,0.7 0.45,0.73', '0,0.37 >0.64,0.53 1.2,0.75 1.72,0.94', '0,0.17 >0.16,0.21 0.5,0.35',
  '0.7,0.2 >0.94,0.34 1.3,0.55', '0.45,0 >0.67,0.08 0.9,0.18', '1.05,0 >1.16,0.12 1.4,0.4', '2.0,0.05 >1.75,0.08 1.55,0.25',
  '2.3,0.45 >1.93,0.29 1.7,0.3', '2.6,0.6 >2.22,0.51 1.9,0.45', '2.8,0.1 >2.6,0.12 2.3,0.15', '2.84,0.38 >2.6,0.37 2.3,0.38',
  '2.6,0.78 >2.2,0.72 1.8,0.72', '2.8,1.0 >2.42,0.97 1.9,0.8', '2.8,1.3 >2.4,1.19 2.0,1.0', '2.84,1.65 >2.65,1.52 2.2,1.3',
  '2.8,2.0 >2.66,1.9 2.35,1.7', '2.75,2.2 >2.62,2.05 2.45,1.9',
];
const redI = [
  '4,3.9 >3.83,3.81 3.4,3.6', '3.3,3.9 >3.16,3.81 2.9,3.55', '4,3.55 >3.55,3.4 3.1,3.2', '4,3.3 >3.83,3.22 3.2,2.95',
  '4,3.05 >3.83,2.99 3.4,2.85', '4,2.85 >3.83,2.8 3.4,2.65', '4,2.65 >3.83,2.6 3.4,2.45', '4,2.45 >3.83,2.4 3.4,2.25',
  '4,2.25 >3.68,2.12 3.3,1.98', '4,2.05 >3.68,1.93 3.3,1.8', '4,1.85 >3.68,1.75 3.3,1.62', '4,1.6 >3.55,1.5 2.9,1.3',
  '4,1.4 >3.55,1.3 2.9,1.1', '4,1.2 >3.55,1.12 2.9,0.95', '4,0.95 >3.83,0.88 3.0,0.7', '4,0.7 >3.65,0.66 2.9,0.6',
  '4,0.5 >3.65,0.49 2.9,0.47', '4,0.35 >3.65,0.33 2.9,0.33', '4,0.1 >3.4,0.05 2.9,0.05',
];
const lavI = [
  '3.3,3.95 >3.05,3.75 2.9,3.55', '4,3.75 >3.6,3.6 3.1,3.35 2.9,3.2', '3.8,3.3 >3.5,3.1 3.0,2.95', '3.6,2.85 >3.2,2.7 2.84,2.55',
  '4,1.6 >3.53,1.45 2.9,1.25', '4,0.85 >3.7,0.75 3.3,0.7', '4,0.4 >3.53,0.33 2.9,0.3',
];
const greyI = ['3.3,3.98 3.0,3.65 2.75,3.3 2.57,2.98 2.55,2.7 2.7,2.7', '4,3.45 >3.58,3.18 3.0,2.9 2.7,2.72 2.55,2.7'];

const RED_LINES = [redA, redB, redC, redD, redE, redF, redG, redH, redI];
const BLUE_LINES = [[], [], blueC, blueD, blueE, blueF, blueG, blueH, blueI];
const LAV_LINES = [lavA, lavB, lavC, lavD, lavE, lavF, lavG, lavH, lavI];
const GREY_LINES = [[], [], [], [], greyE, greyF, greyG, greyH, greyI];

type Pt = { T: number; S: number; ang?: number };

function parseLine(s: string): Pt[] {
  const raw = s.trim().split(/\s+/).map((tok) => {
    const arrow = tok[0] === '>';
    const [t, v] = (arrow ? tok.slice(1) : tok).split(',').map(Number);
    return { T: t, S: v, arrow };
  });
  return raw.map((p, i) => {
    const out: Pt = { T: p.T, S: p.S };
    if (p.arrow) {
      const a = raw[Math.max(0, i - 1)];
      const b = raw[Math.min(raw.length - 1, i + 1)];
      out.ang = Math.atan2(-(b.S - a.S) * PH / 4, (b.T - a.T) * PW / 4);
    }
    return out;
  });
}

function parsePts(s: string) {
  if (!s) return [];
  return s.split(' ').map((tok) => tok.split(',').map(Number));
}

const arrowHead = (color: string) => (props: any) => {
  const { cx, cy, payload, index } = props;
  if (!payload || payload.ang === undefined || cx == null) return <g key={`n${index}`} />;
  const c = Math.cos(payload.ang);
  const s = Math.sin(payload.ang);
  const f = 3.6, b = 2.8, w = 2.7;
  const d = `M${cx + c * f},${cy + s * f} L${cx - c * b - s * w},${cy - s * b + c * w} L${cx - c * b + s * w},${cy - s * b - c * w} Z`;
  return <path key={`a${index}`} d={d} fill={color} stroke="none" />;
};

function series(list: string[], color: string, width: number, prefix: string) {
  return list.map((s, i) => (
    <Line
      key={prefix + i}
      data={parseLine(s)}
      dataKey="S"
      type="natural"
      stroke={color}
      strokeWidth={width}
      dot={arrowHead(color)}
      activeDot={false}
      isAnimationActive={false}
      legendType="none"
    />
  ));
}

function Panel({ idx }: { idx: number }) {
  const col = idx % 3;
  const row = Math.floor(idx / 3);
  const tp = T_PLUS[idx];
  const tm = T_MINUS[idx];
  const ticks = [0, 1, 2, 3, 4];
  if (tp > 0) ticks.push(tp);
  if (tm != null) ticks.push(tm);
  ticks.sort((x, y) => x - y);

  const xTick = (p: any) => {
    const v = p.payload.value;
    const x = p.x;
    const y = p.y + 20;
    let body: React.ReactNode = null;
    if (v === 0 || v === 4) body = String(v);
    else if (tp > 0 && v === tp)
      body = (
        <>
          <tspan fontStyle="italic">T</tspan>
          <tspan fontSize={16} dy={5}>+</tspan>
        </>
      );
    else if (tm != null && v === tm)
      body = (
        <>
          <tspan fontStyle="italic">T</tspan>
          <tspan fontSize={17} fontWeight="bold" dy={5}>−</tspan>
        </>
      );
    if (body == null) return <g />;
    return (
      <text x={x} y={y} textAnchor="middle" fontSize={21} fontFamily={FONT} fill="#000">
        {body}
      </text>
    );
  };
  const yTick = (p: any) => {
    const v = p.payload.value;
    if (v !== 0 && v !== 4) return <g />;
    return (
      <text x={p.x - 1} y={p.y + 7.5} textAnchor="end" fontSize={21} fontFamily={FONT} fill="#000">
        {v}
      </text>
    );
  };

  const reds = parsePts(RED_PTS[idx]);
  const blues = parsePts(BLUE_PTS[idx]);
  const top = PLOT_TOP[row] - 19;

  return (
    <div style={{ position: 'absolute', left: col * 345, top, width: 345, height: 345 }}>
      <ComposedChart width={345} height={330} margin={{ top: 19, right: 12, bottom: 0, left: 0 }}>
        <XAxis
          type="number"
          dataKey="T"
          domain={[0, 4]}
          ticks={ticks}
          interval={0}
          tickSize={5}
          height={60}
          tick={xTick}
          stroke="#000"
          allowDataOverflow
        />
        <YAxis
          type="number"
          dataKey="S"
          domain={[0, 4]}
          ticks={[0, 1, 2, 3, 4]}
          interval={0}
          tickSize={6}
          width={63}
          tick={yTick}
          stroke="#000"
          allowDataOverflow
        />
        {series(LAV_LINES[idx], LAV, 1.25, 'l')}
        {series(BLUE_LINES[idx], BLUE, 1.25, 'b')}
        {series(RED_LINES[idx], RED, 1.25, 'r')}
        {series(GREY_LINES[idx], GREY, 2.8, 'g')}
        <ReferenceLine x={tp} stroke={RED} strokeWidth={1.5} strokeDasharray="5 3" ifOverflow="visible" />
        {tm != null && <ReferenceLine x={tm} stroke="#9c9cf0" strokeWidth={1.3} strokeDasharray="5 3" />}
        {reds.map((p, i) => (
          <ReferenceDot key={'rp' + i} x={p[0]} y={p[1]} r={4.2} fill={RED} stroke="none" />
        ))}
        {blues.map((p, i) => (
          <ReferenceDot key={'bp' + i} x={p[0]} y={p[1]} r={4.2} fill={BLUE} stroke="none" />
        ))}
      </ComposedChart>
      <svg width={345} height={345} style={{ position: 'absolute', left: 0, top: 0, pointerEvents: 'none' }}>
        <text x={10} y={22} fontSize={19} fontWeight="bold" fontFamily={FONT}>
          {NAMES[idx]}
        </text>
        <text x={198} y={19 + PH + 50} fontSize={22} textAnchor="middle" fontFamily={FONT}>
          T
        </text>
        <text
          x={25}
          y={19 + PH / 2}
          fontSize={22}
          textAnchor="middle"
          fontFamily={FONT}
          transform={`rotate(-90 25 ${19 + PH / 2})`}
          dominantBaseline="central"
        >
          S
        </text>
      </svg>
    </div>
  );
}

export default function App() {
  return (
    <div style={{ position: 'absolute', left: 0, top: 0, width: 1032, height: 1019, overflow: 'hidden', background: '#fff' }}>
      {NAMES.map((_, i) => (
        <Panel key={i} idx={i} />
      ))}
    </div>
  );
}
